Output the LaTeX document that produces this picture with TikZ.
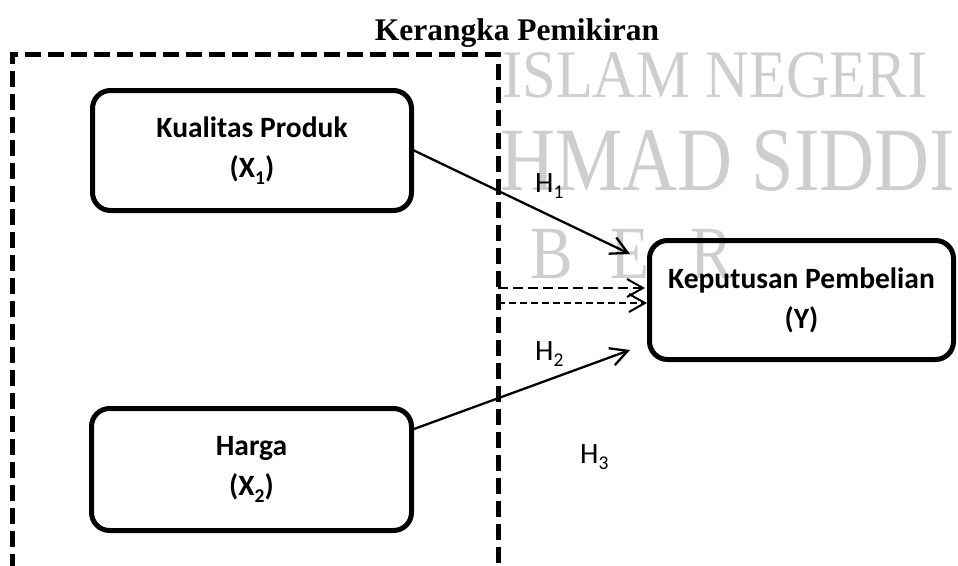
\documentclass[tikz,border=0pt]{standalone}
\usepackage{fontspec}
\setmainfont{Carlito}
\newfontfamily\serifwm{Liberation Serif}
\usetikzlibrary{arrows.meta,calc}
\definecolor{wmgray}{RGB}{206,206,206}
\newcommand{\lsub}[1]{\raisebox{-0.22em}{\fontsize{19.5}{19.5}\selectfont #1}}
\begin{document}
\begin{tikzpicture}[x=1pt,y=-1pt,
  varbox/.style={draw, line width=5pt, rounded corners=18pt, align=center,
    font=\fontsize{29.5}{40}\selectfont\bfseries, inner sep=0pt},
  hlabel/.style={anchor=base west, inner sep=0pt, font=\fontsize{29.5}{33}\selectfont},
  arr/.style={line width=2.3pt, -{Straight Barb[length=17pt,width=18pt,line width=2.3pt]}},
  darr/.style={line width=2pt, -{Straight Barb[length=16pt,width=18pt,line width=2pt]}},
  wmtext/.style={text=wmgray, inner sep=0pt, anchor=base west},
  outerdash/.style={line width=5pt, dash pattern=on 16pt off 7pt}]
\useasboundingbox (0,0) rectangle (958,565);
\clip (0,0) rectangle (958,565);
% watermark
\node[wmtext] (wm1) at (502,97) {\scalebox{0.89}[1]{\fontsize{68}{68}\selectfont\serifwm ISLAM NEGERI}};
\node[wmtext] (wm2) at (500,190) {\scalebox{0.84}[1]{\fontsize{90.6}{90}\selectfont\serifwm HMAD SIDDI}};
\node[wmtext] (wm3) at (530,278) {\scalebox{0.85}[1]{\fontsize{75}{75}\selectfont\serifwm B}};
\node[wmtext] (wm4) at (610,278) {\scalebox{0.85}[1]{\fontsize{75}{75}\selectfont\serifwm E}};
\node[wmtext] (wm5) at (690,278) {\scalebox{0.85}[1]{\fontsize{75}{75}\selectfont\serifwm R}};
% outer dashed frame
\fill[white] (12,54) rectangle (498,570);
\draw[outerdash] (12,570) -- (12,54) -- (498,54) -- (498,570);
% title
\node[anchor=base, inner sep=0pt, font=\fontsize{31.5}{36}\selectfont\serifwm\bfseries] (title) at (517,40) {Kerangka Pemikiran};
% boxes
\node[varbox, minimum width=319pt, minimum height=120pt] (kp) at (252,150.5) {Kualitas Produk\\(X\lsub{1})};
\node[varbox, minimum width=320pt, minimum height=122pt] (hg) at (251.5,469.5) {Harga\\(X\lsub{2})};
\node[varbox, minimum width=304pt, minimum height=119pt] (kb) at (801.5,300) {Keputusan Pembelian\\(Y)};
% arrow ends
\coordinate (t1) at (630,254);
\coordinate (t2) at (630,350);
\coordinate (d1s) at (498,288);
\coordinate (d1e) at (645,288);
\coordinate (d2s) at (498,303);
\coordinate (d2e) at (647,303);
\draw[arr] (kp.east) -- (t1);
\draw[arr] ($(hg.north east)+(0,23)$) -- (t2);
\draw[darr, dash pattern=on 10pt off 5pt] (d1s) -- (d1e);
\draw[darr, dash pattern=on 7pt off 4pt] (d2s) -- (d2e);
% labels
\node[hlabel] (h1) at (535,192) {H\lsub{1}};
\node[hlabel] (h2) at (535,360) {H\lsub{2}};
\node[hlabel] (h3) at (580,463) {H\lsub{3}};
\end{tikzpicture}
\end{document}
